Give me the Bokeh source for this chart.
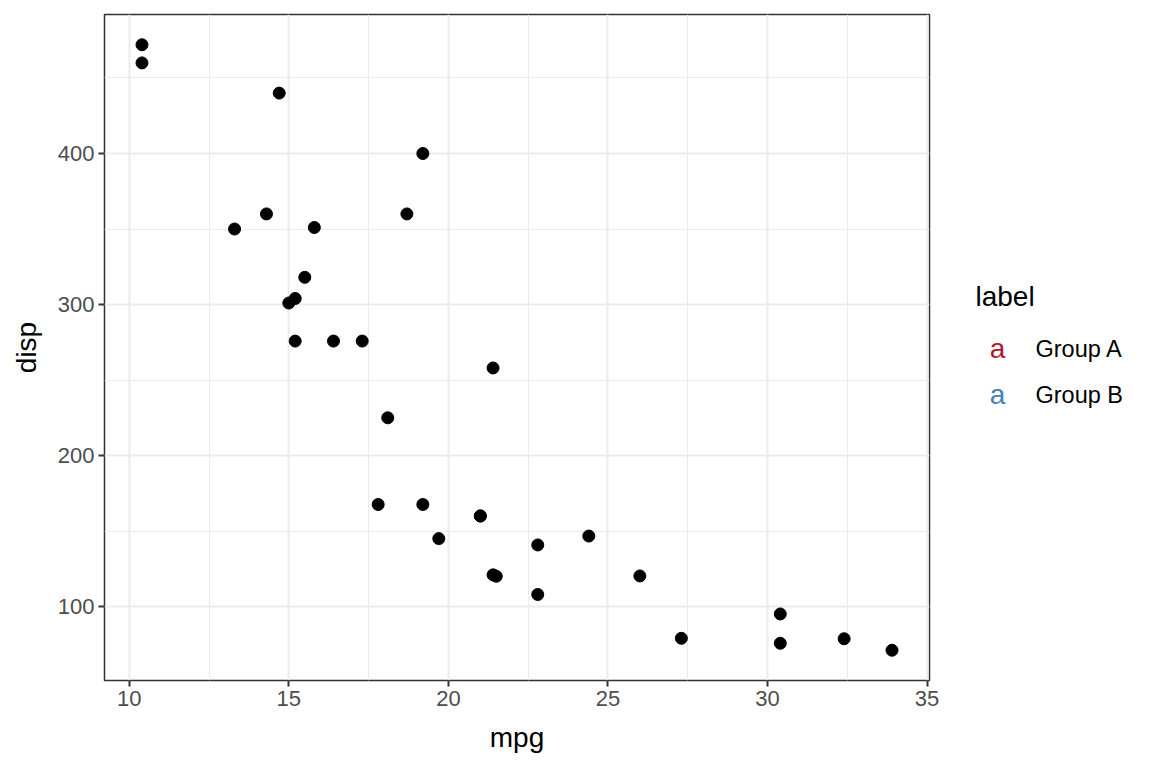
from bokeh.plotting import figure
from bokeh.layouts import row
from bokeh.models import FixedTicker, ColumnDataSource
from bokeh.core.properties import value
from bokeh.embed import file_html
from bokeh.resources import INLINE

# mtcars: mpg vs disp
mpg = [21.0, 21.0, 22.8, 21.4, 18.7, 18.1, 14.3, 24.4, 22.8, 19.2, 17.8,
       16.4, 17.3, 15.2, 10.4, 10.4, 14.7, 32.4, 30.4, 33.9, 21.5, 15.5,
       15.2, 13.3, 19.2, 27.3, 26.0, 30.4, 15.8, 19.7, 15.0, 21.4]
disp = [160, 160, 108, 258, 360, 225, 360, 146.7, 140.8, 167.6, 167.6,
        275.8, 275.8, 275.8, 472, 460, 440, 78.7, 75.7, 71.1, 120.1, 318,
        304, 350, 400, 79, 120.3, 95.1, 351, 145, 301, 121]

legend_labels = ["Group A", "Group B"]
legend_colors = ["#B2182B", "#4682B4"]

FONT = "Liberation Sans"

p = figure(width=939, height=760, output_backend="svg", toolbar_location=None,
           x_range=(9.225, 35.075), y_range=(51.055, 492.045),
           min_border_left=104, min_border_right=10, min_border_top=14,
           min_border_bottom=80)
p.scatter(mpg, disp, size=12, color="black")

p.xaxis.ticker = FixedTicker(ticks=[10, 15, 20, 25, 30, 35],
                             minor_ticks=[12.5, 17.5, 22.5, 27.5, 32.5])
p.yaxis.ticker = FixedTicker(ticks=[100, 200, 300, 400],
                             minor_ticks=[150, 250, 350, 450])
p.xaxis.axis_label = "mpg"
p.yaxis.axis_label = "disp"
for ax in p.axis:
    ax.axis_line_color = None
    ax.major_tick_line_color = "#333333"
    ax.major_tick_line_width = 2
    ax.major_tick_out = 6
    ax.major_tick_in = 0
    ax.minor_tick_line_color = None
    ax.major_label_text_font = FONT
    ax.major_label_text_font_size = "22px"
    ax.major_label_text_color = "#4D4D4D"
    ax.axis_label_text_font = FONT
    ax.axis_label_text_font_size = "28px"
    ax.axis_label_text_font_style = "normal"
    ax.axis_label_text_color = "black"
    ax.major_label_standoff = 4
    ax.axis_label_standoff = 13

p.grid.grid_line_color = "#EBEBEB"
p.grid.grid_line_width = 2
p.grid.minor_grid_line_color = "#EBEBEB"
p.grid.minor_grid_line_width = 1
p.outline_line_color = "#333333"
p.outline_line_width = 1.5
p.background_fill_color = "white"

# legend drawn as a separate panel (frame aligns with main frame: 14..680 px)
leg = figure(width=200, height=760, output_backend="svg", toolbar_location=None,
             x_range=(0, 200), y_range=(80, 746), min_border=0)
leg.axis.visible = False
leg.grid.visible = False
leg.outline_line_color = None

leg.text(x=[36], y=[464], text=["label"], text_font=value(FONT),
         text_font_size="28px", text_baseline="middle", text_color="black")
src = ColumnDataSource(dict(y=[412, 366], lab=legend_labels, col=legend_colors))
leg.text(x=58, y="y", text=value("a"), text_color="col", source=src,
         text_font=value(FONT), text_font_size="28px",
         text_align="center", text_baseline="middle")
leg.text(x=96, y="y", text="lab", source=src, text_color="black",
         text_font=value(FONT), text_font_size="23.5px", text_baseline="middle")

layout = row(p, leg)
open("out.html", "w").write(file_html(layout, INLINE))
